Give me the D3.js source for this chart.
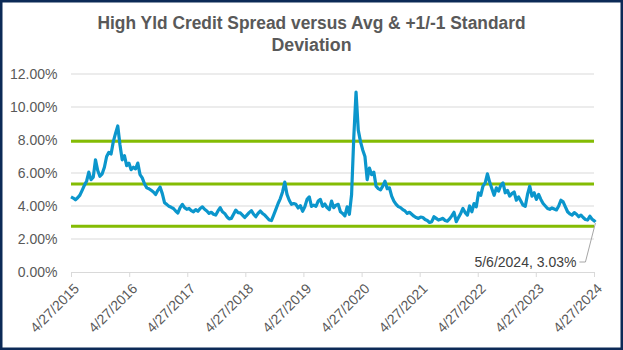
<!DOCTYPE html>
<html><head><meta charset="utf-8">
<script src="https://cdn.jsdelivr.net/npm/d3@7"></script>
<style>html,body{margin:0;padding:0;background:#fff}svg{display:block}</style>
</head><body>
<svg id="chart" width="623" height="350"></svg>
<script>
// ---- data ----
const titleLines = ["High Yld Credit Spread versus Avg & +1/-1 Standard", "Deviation"];
const startDate = "2015-04-27";
const stepDays = 14;
const spreadValues = [
  4.55,4.48,4.38,4.50,4.66,4.95,5.25,5.50,6.05,5.60,
  5.75,6.80,6.15,5.80,5.95,6.35,7.00,7.25,7.15,7.90,
  8.40,8.85,7.70,6.80,7.05,6.45,6.60,6.20,6.35,6.25,
  6.60,5.90,5.70,5.35,5.10,5.05,4.95,4.85,4.70,4.95,
  5.15,4.75,4.20,4.10,3.98,3.92,3.85,3.70,3.58,3.90,
  4.10,3.90,3.80,3.85,3.72,3.65,3.78,3.68,3.85,3.95,
  3.80,3.70,3.55,3.62,3.50,3.45,3.70,3.90,3.65,3.55,
  3.35,3.22,3.25,3.50,3.75,3.60,3.58,3.45,3.30,3.45,
  3.60,3.72,3.50,3.35,3.55,3.70,3.55,3.45,3.30,3.15,
  3.12,3.45,3.80,4.15,4.45,4.85,5.45,4.70,4.35,4.10,
  4.15,4.10,3.88,4.02,3.68,3.95,4.40,4.55,3.98,4.05,
  3.98,4.30,4.40,3.98,4.12,3.90,3.78,4.30,3.90,4.05,
  4.10,3.65,3.55,3.40,3.95,3.50,4.70,8.20,10.90,8.60,
  7.90,7.40,7.00,5.60,6.30,5.90,6.05,5.20,5.05,4.98,
  5.20,5.50,5.05,5.10,4.60,4.30,4.10,3.96,3.90,3.78,
  3.70,3.55,3.62,3.50,3.38,3.30,3.25,3.33,3.30,3.18,
  3.12,3.00,3.05,3.35,3.25,3.15,3.20,3.25,3.12,3.08,
  3.22,3.40,3.62,3.05,3.30,3.55,3.85,3.60,3.45,4.00,
  3.65,4.15,3.95,4.80,4.65,5.20,5.40,5.95,5.45,5.05,
  4.65,5.10,4.90,5.25,5.40,4.80,4.95,4.60,4.75,4.85,
  4.35,4.55,4.30,4.05,3.98,4.70,5.20,4.60,4.80,4.40,
  4.70,4.40,4.15,4.00,3.85,3.80,3.88,3.82,3.76,4.00,
  4.35,4.25,3.95,3.65,3.52,3.45,3.60,3.50,3.35,3.45,
  3.30,3.18,3.15,3.38,3.20,3.10
];
const lastPoint = { date: "2024-05-06", value: 3.03 };
const bandNames = ["-1 SD", "Avg", "+1 SD"];
const bandLevels = [2.77, 5.34, 7.93];
const yTicks = [0, 2, 4, 6, 8, 10, 12];
const xTickDates = ["2015-04-27","2016-04-27","2017-04-27","2018-04-27","2019-04-27",
  "2020-04-27","2021-04-27","2022-04-27","2023-04-27","2024-04-27"];

// ---- chart ----
const W = 623, H = 350;
const parse = d3.utcParse("%Y-%m-%d");
const fmtDate = d3.utcFormat("%-m/%-d/%Y");
const start = parse(startDate);
const series = spreadValues.map((v, i) => ({ date: d3.utcDay.offset(start, i * stepDays), value: v }));
const last = { date: parse(lastPoint.date), value: lastPoint.value };
series.push(last);

const margin = { left: 71, right: 29, top: 74, bottom: 78 };
const x = d3.scaleUtc()
  .domain([parse(xTickDates[0]), parse(xTickDates[xTickDates.length - 1])])
  .range([margin.left, W - margin.right]);
const y = d3.scaleLinear().domain([0, 12]).range([H - margin.bottom, margin.top]);

const svg = d3.select("#chart");
svg.append("rect").attr("x", 0).attr("y", 0).attr("width", W).attr("height", H).attr("fill", "#fff");

const font = "'Liberation Sans', Arial, sans-serif";
const textColor = "#595959";

// title
const titleWidths = [428, 80];
svg.append("g").selectAll("text").data(titleLines).join("text")
  .attr("x", W / 2)
  .attr("y", (d, i) => 29 + i * 22)
  .attr("text-anchor", "middle")
  .attr("font-family", "'Liberation Sans Narrow', 'Liberation Sans', Arial, sans-serif")
  .attr("font-weight", "bold")
  .attr("font-size", 18)
  .attr("fill", textColor)
  .attr("textLength", (d, i) => titleWidths[i])
  .attr("lengthAdjust", "spacingAndGlyphs")
  .text(d => d);

// gridlines
svg.append("g").selectAll("line").data(yTicks.filter(t => t > 0)).join("line")
  .attr("x1", x.range()[0]).attr("x2", x.range()[1])
  .attr("y1", d => y(d)).attr("y2", d => y(d))
  .attr("stroke", "#d9d9d9").attr("stroke-width", 1);

// y labels
svg.append("g").selectAll("text").data(yTicks).join("text")
  .attr("x", 57.5).attr("y", d => y(d)).attr("dy", "0.35em")
  .attr("text-anchor", "end")
  .attr("font-family", font).attr("font-size", 14).attr("fill", textColor)
  .text(d => d3.format(".2f")(d) + "%");

// x axis
const xAxis = d3.axisBottom(x)
  .tickValues(xTickDates.map(parse))
  .tickSize(5).tickSizeOuter(0)
  .tickFormat(fmtDate);
const gx = svg.append("g").attr("transform", `translate(0,${y(0)})`).call(xAxis);
gx.select(".domain").attr("stroke", "#d9d9d9");
gx.selectAll(".tick line").attr("stroke", "#d9d9d9");
gx.selectAll(".tick text")
  .attr("x", 0).attr("y", 0).attr("dy", "0.35em")
  .attr("transform", "translate(5,14) rotate(-45)")
  .attr("text-anchor", "end")
  .attr("font-family", font).attr("font-size", 14).attr("fill", textColor);

// bands
svg.append("g").selectAll("line").data(bandLevels).join("line")
  .attr("x1", x.range()[0]).attr("x2", x.range()[1])
  .attr("y1", d => y(d)).attr("y2", d => y(d))
  .attr("stroke", "#84bc04").attr("stroke-width", 3);

// series line
const line = d3.line().x(d => x(d.date)).y(d => y(d.value));
svg.append("path").datum(series)
  .attr("d", line)
  .attr("fill", "none")
  .attr("stroke", "#0b96cc")
  .attr("stroke-width", 3.2)
  .attr("stroke-linejoin", "round");

// annotation
const px = x(last.date), py = y(last.value);
svg.append("path")
  .attr("d", `M${px - 16},${py + 40} L${px - 10},${py + 40} L${px},${py + 1}`)
  .attr("fill", "none").attr("stroke", "#a6a6a6").attr("stroke-width", 1);
svg.append("text")
  .attr("x", px - 19).attr("y", py + 40).attr("dy", "0.35em")
  .attr("text-anchor", "end")
  .attr("font-family", font).attr("font-size", 14).attr("fill", "#404040")
  .text(`${fmtDate(last.date)}, ${last.value.toFixed(2)}%`);

// border
svg.append("rect").attr("x", 1.25).attr("y", 1.25).attr("width", W - 2.5).attr("height", H - 2.5)
  .attr("fill", "none").attr("stroke", "#0c2a57").attr("stroke-width", 2.5);
</script>
</body></html>
